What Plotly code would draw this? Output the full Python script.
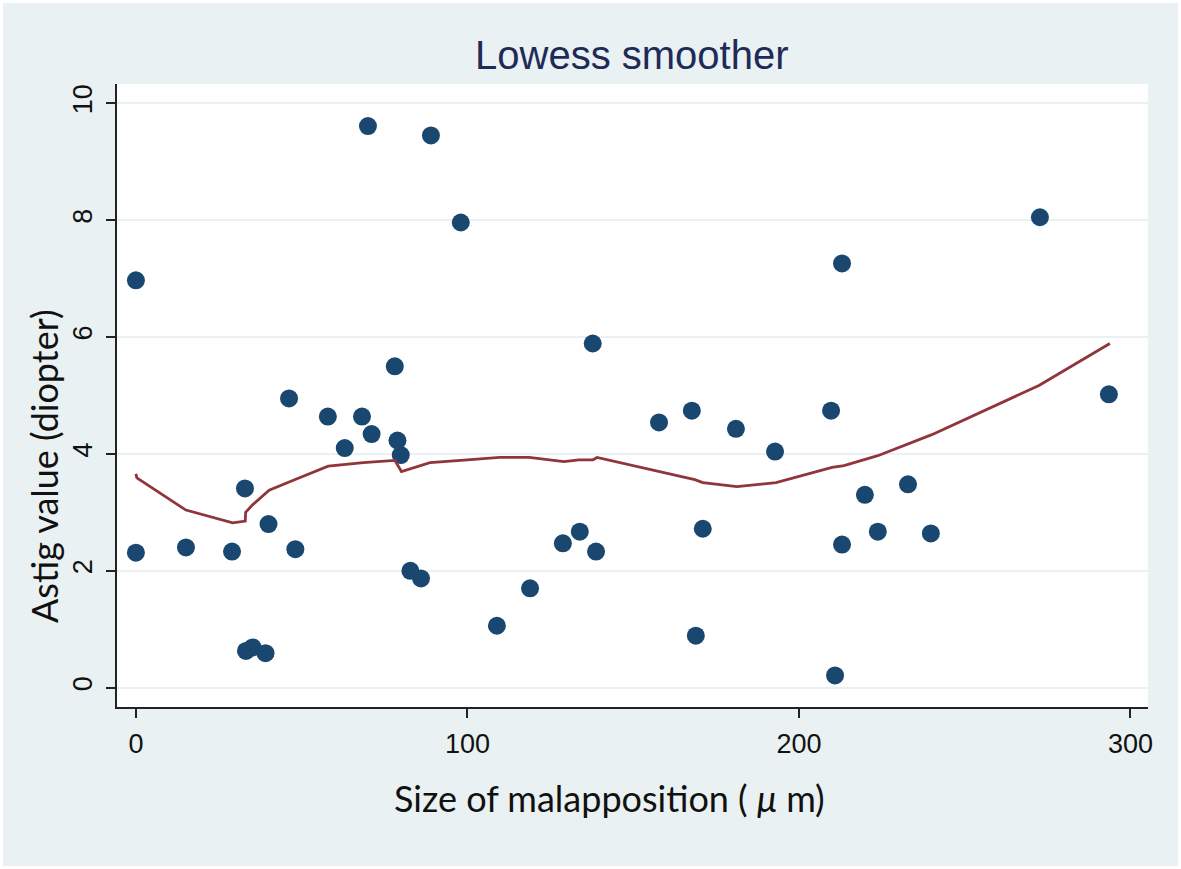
import plotly.graph_objects as go

# Scatter data: size of malapposition (um) vs astig value (diopter)
malapposition = [0, 0, 15.1, 29.0, 32.9, 33.2, 35.2, 39.1, 40.0, 46.2, 48.1,
                 57.9, 63.0, 68.2, 70.0, 71.1, 78.1, 78.9, 79.9, 82.8, 86.0,
                 89.0, 98.0, 108.9, 118.9, 128.8, 133.9, 137.8, 138.8, 157.8,
                 167.7, 168.9, 171.0, 181.0, 192.8, 209.7, 210.9, 213.0, 213.0,
                 219.9, 223.8, 232.9, 239.8, 272.7, 293.5]
astig = [6.97, 2.31, 2.40, 2.33, 3.41, 0.63, 0.69, 0.59, 2.80, 4.95, 2.37,
         4.64, 4.10, 4.64, 9.61, 4.34, 5.50, 4.23, 3.98, 2.00, 1.87,
         9.45, 7.96, 1.06, 1.70, 2.47, 2.67, 5.89, 2.33, 4.54,
         4.74, 0.89, 2.72, 4.43, 4.04, 4.74, 0.21, 7.26, 2.45,
         3.30, 2.67, 3.48, 2.64, 8.05, 5.02]

# Lowess smoother curve
lowess_x = [0, 0.3, 15.1, 29.2, 33.0, 33.1, 35.2, 39.4, 40.2, 47.5, 58.0, 68.6,
            70.6, 78.1, 80.1, 88.7, 98.0, 109.8, 118.6, 129.1, 133.6, 137.9,
            139.1, 158.0, 168.6, 171.0, 181.3, 193.1, 210.0, 213.6, 223.8,
            240.1, 272.4, 293.8]
lowess_y = [3.66, 3.59, 3.04, 2.82, 2.85, 3.00, 3.13, 3.33, 3.38, 3.55, 3.79, 3.85,
            3.86, 3.89, 3.70, 3.85, 3.89, 3.94, 3.94, 3.87, 3.90, 3.90,
            3.94, 3.69, 3.56, 3.51, 3.44, 3.51, 3.77, 3.80, 3.97,
            4.33, 5.17, 5.89]

x_ticks = [0, 100, 200, 300]
y_ticks = [0, 2, 4, 6, 8, 10]

BG = "#eaf1f3"
NAVY = "#1a476f"
MAROON = "#90353b"

fig = go.Figure()
fig.add_trace(go.Scatter(x=malapposition, y=astig, mode="markers",
                         marker=dict(color=NAVY, size=18, line=dict(width=0)),
                         showlegend=False))
fig.add_trace(go.Scatter(x=lowess_x, y=lowess_y, mode="lines",
                         line=dict(color=MAROON, width=2.8),
                         showlegend=False))

W, H = 1181, 869
L, R, T, B = 117, 33, 84, 162
pw, ph = W - L - R, H - T - B

def px(xp):
    return (xp - L) / pw

def py(yp):
    return (H - B - yp) / ph

fig.update_layout(
    width=W, height=H,
    margin=dict(l=L, r=R, t=T, b=B, pad=0),
    paper_bgcolor=BG, plot_bgcolor="white",
    font=dict(family="Liberation Sans, Arial, sans-serif", color="#111111"),
    xaxis=dict(range=[-5.7, 305.3], tickvals=x_ticks, showgrid=False,
               zeroline=False, showline=True, linecolor="#222222", linewidth=1.5,
               ticks="outside", ticklen=9, tickwidth=1.5, tickcolor="#222222",
               tickfont=dict(size=27, color="#111111"), ticklabelstandoff=3),
    yaxis=dict(range=[-0.33, 10.33], tickvals=y_ticks, showgrid=True,
               gridcolor=BG, gridwidth=1.5, zeroline=False, showline=True,
               linecolor="#222222", linewidth=1.5, ticks="outside", ticklen=9,
               tickwidth=1.5, tickcolor="#222222", tickangle=-90,
               tickfont=dict(size=27, color="#111111"), ticklabelstandoff=3),
    annotations=[
        dict(text="Lowess smoother", x=px(631), y=py(55), xref="paper", yref="paper",
             showarrow=False, xanchor="center", yanchor="middle",
             font=dict(size=40, color="#1e2b58", family="Liberation Sans, Arial, sans-serif")),
        dict(text="Size of malapposition ( <i>μ</i> m)", x=px(609), y=py(798),
             xref="paper", yref="paper", showarrow=False, xanchor="center",
             yanchor="middle", font=dict(size=36, color="#111111", family="Lato, sans-serif")),
        dict(text="Astig value (diopter)", x=px(44), y=py(466),
             xref="paper", yref="paper", showarrow=False, xanchor="center",
             yanchor="middle", textangle=-90,
             font=dict(size=36, color="#111111", family="Lato, sans-serif")),
    ],
    shapes=[dict(type="rect", xref="paper", yref="paper",
                 x0=px(0), x1=px(W), y0=py(H), y1=py(0),
                 line=dict(color="white", width=6), fillcolor="rgba(0,0,0,0)",
                 layer="above")],
)

fig.write_html("out.html", config={"displayModeBar": False},
               post_script="document.body.style.margin='0';document.body.style.overflow='hidden';")
